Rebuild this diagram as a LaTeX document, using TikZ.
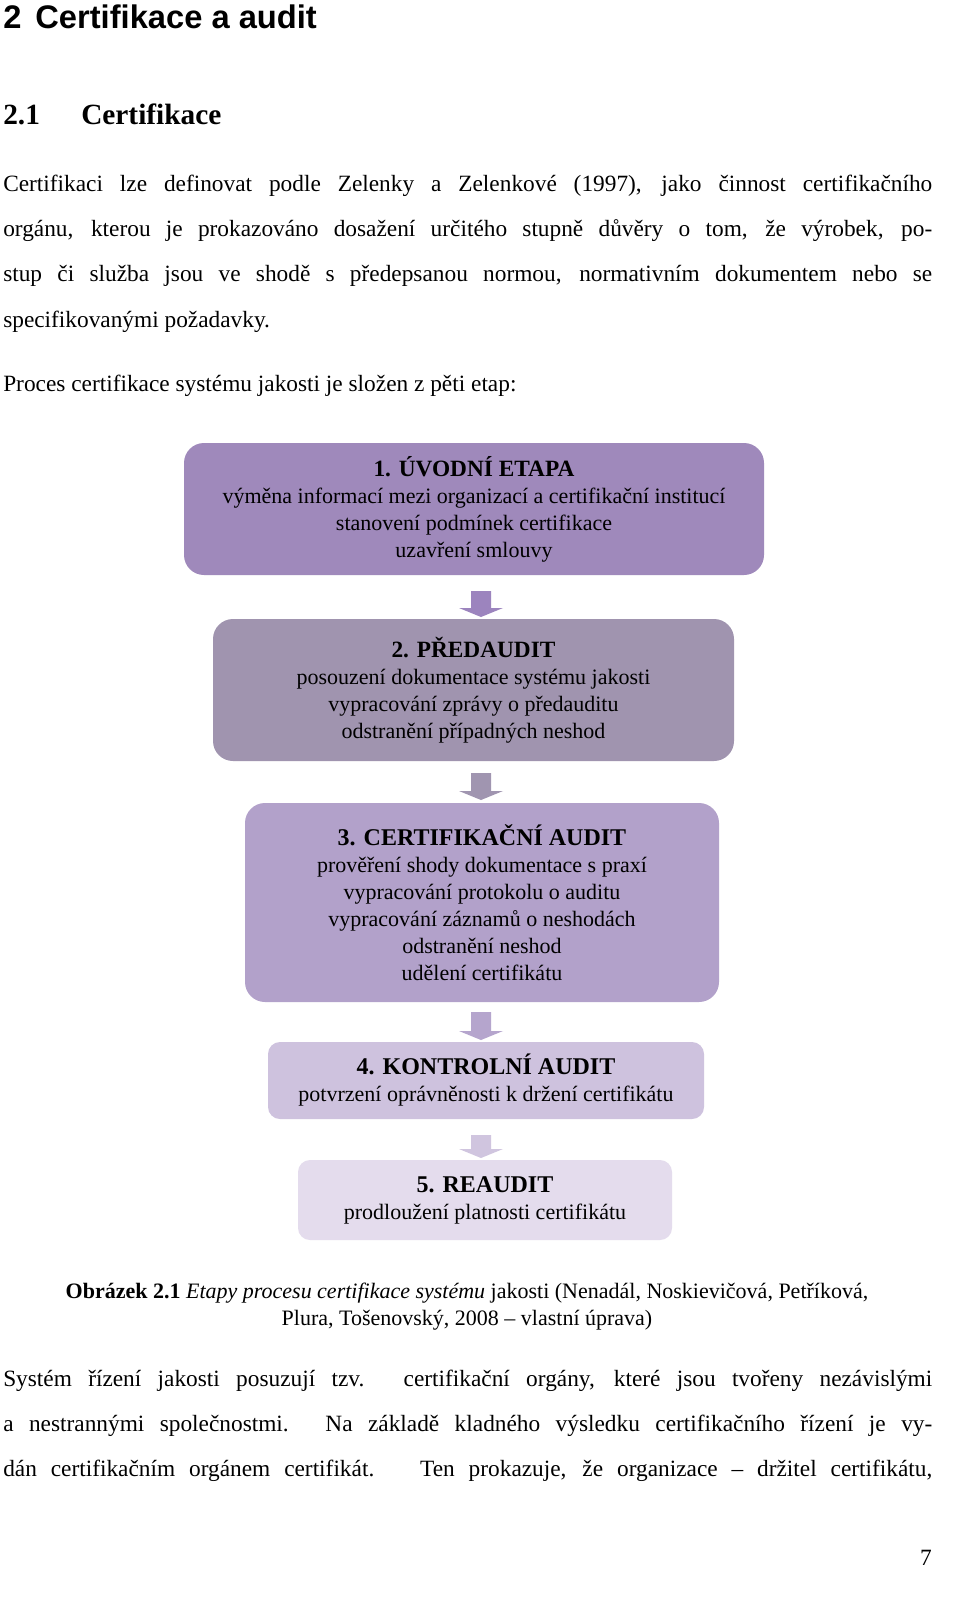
\documentclass[tikz,border=0pt]{standalone}
\usepackage{fontspec}
\setmainfont{Liberation Serif}
\setsansfont{Liberation Sans}
\newlength\px \setlength\px{0.75pt}
\definecolor{cA}{HTML}{9F89BB}
\definecolor{cB}{HTML}{A094AF}
\definecolor{cC}{HTML}{B2A1CA}
\definecolor{cD}{HTML}{CEC2DE}
\definecolor{cE}{HTML}{E4DCED}
\definecolor{aA}{HTML}{9C84BE}
\definecolor{aB}{HTML}{A095B0}
\definecolor{aC}{HTML}{B5A5CD}
\definecolor{aD}{HTML}{D0C5DF}
\tikzset{
  body/.style={anchor=base west,inner sep=0pt,font=\fontsize{17.5pt}{20pt}\selectfont},
  stage/.style={rounded corners=20\px,inner sep=0pt,align=center,font=\fontsize{16.5pt}{20.25pt}\selectfont},
}
\newcommand{\blockarr}[4]{%
  \fill[#4] (#1-10,#2) -- (#1+10,#2) -- (#1+10,#3-9) -- (#1+22,#3-9) -- (#1,#3) -- (#1-22,#3-9) -- (#1-10,#3-9) -- cycle;}
\newcommand{\jl}[1]{\makebox[929\px][s]{#1}}
\begin{document}
\begin{tikzpicture}[x=1\px,y=-1\px]
\fill[white] (0,0) rectangle (960,1617);
\node[anchor=base west,inner sep=0pt,font=\sffamily\bfseries\fontsize{24.5pt}{26pt}\selectfont] (h1) at (3,28) {2\hspace{14\px}Certifikace a audit};
\node[anchor=base west,inner sep=0pt,font=\bfseries\fontsize{22pt}{26pt}\selectfont] (h2a) at (3,124) {2.1};
\node[anchor=base west,inner sep=0pt,font=\bfseries\fontsize{22pt}{26pt}\selectfont] (h2b) at (81,124) {Certifikace};
\node[body] (p1) at (3,191) {\jl{Certifikaci lze definovat podle Zelenky a Zelenkové (1997), jako činnost certifikačního}};
\node[body] (p2) at (3,236) {\jl{orgánu, kterou je prokazováno dosažení určitého stupně důvěry o tom, že výrobek, po-}};
\node[body] (p3) at (3,281) {\jl{stup či služba jsou ve shodě s předepsanou normou, normativním dokumentem nebo se}};
\node[body] (p4) at (3,327) {specifikovanými požadavky.};
\node[body] (p5) at (3,391) {Proces certifikace systému jakosti je složen z pěti etap:};
% stages
\node[stage,fill=cA,minimum width=580\px,minimum height=132\px] (s1) at (474,509)
 {{\bfseries\fontsize{17.5pt}{20.25pt}\selectfont 1. ÚVODNÍ ETAPA}\\výměna informací mezi organizací a certifikační institucí\\stanovení podmínek certifikace\\uzavření smlouvy};
\node[stage,fill=cB,minimum width=521\px,minimum height=142\px] (s2) at (473.5,690)
 {{\bfseries\fontsize{17.5pt}{20.25pt}\selectfont 2. PŘEDAUDIT}\\posouzení dokumentace systému jakosti\\vypracování zprávy o předauditu\\odstranění případných neshod};
\node[stage,fill=cC,minimum width=474\px,minimum height=199\px] (s3) at (482,902.5)
 {{\bfseries\fontsize{18pt}{20.25pt}\selectfont 3. CERTIFIKAČNÍ AUDIT}\\prověření shody dokumentace s praxí\\vypracování protokolu o auditu\\vypracování záznamů o neshodách\\odstranění neshod\\udělení certifikátu};
\node[stage,fill=cD,minimum width=436\px,minimum height=77\px,rounded corners=12\px] (s4) at (486,1080.5)
 {{\bfseries\fontsize{18pt}{20.25pt}\selectfont 4. KONTROLNÍ AUDIT}\\potvrzení oprávněnosti k držení certifikátu};
\node[stage,fill=cE,minimum width=374\px,minimum height=80\px,rounded corners=12\px] (s5) at (485,1200)
 {{\bfseries\fontsize{18pt}{20.25pt}\selectfont 5. REAUDIT}\\prodloužení platnosti certifikátu};
\blockarr{481}{591}{617}{aA}
\blockarr{481}{773}{800}{aB}
\blockarr{481}{1012}{1040}{aC}
\blockarr{481}{1135}{1158}{aD}
% caption
\node[anchor=base,inner sep=0pt,font=\fontsize{16.5pt}{20pt}\selectfont] (c1) at (467,1298)
 {\textbf{Obrázek 2.1} \textit{Etapy procesu certifikace systému} jakosti (Nenadál, Noskievičová, Petříková,};
\node[anchor=base,inner sep=0pt,font=\fontsize{16.5pt}{20pt}\selectfont] (c2) at (467,1325)
 {Plura, Tošenovský, 2008 -- vlastní úprava)};
\node[body] (q1) at (3,1386) {\jl{Systém řízení jakosti posuzují tzv. certifikační orgány, které jsou tvořeny nezávislými}};
\node[body] (q2) at (3,1431) {\jl{a nestrannými společnostmi. Na základě kladného výsledku certifikačního řízení je vy-}};
\node[body] (q3) at (3,1476) {\jl{dán certifikačním orgánem certifikát.~ Ten prokazuje, že organizace -- držitel certifikátu,}};
\node[body,anchor=base east] (pg) at (932,1565) {7};
\pgfresetboundingbox
\path[use as bounding box] (0,0) rectangle (960,1617);
\end{tikzpicture}
\end{document}
